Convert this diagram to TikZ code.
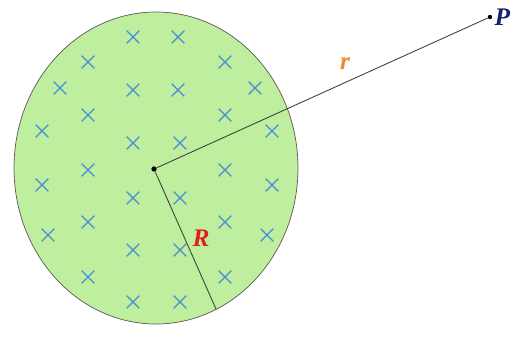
\documentclass[tikz,border=0pt]{standalone}
\usepackage{fontspec}
\setmainfont{Liberation Serif}
\usepackage{xcolor}
\definecolor{colField}{RGB}{190,238,158}
\definecolor{colCross}{RGB}{70,140,215}
\definecolor{colSmallR}{RGB}{235,140,45}
\definecolor{colBigR}{RGB}{225,30,30}
\definecolor{colP}{RGB}{25,30,110}
\usepackage{tikz}
\usetikzlibrary{shapes.misc}
\tikzset{
	fieldreg/.style={draw=black!65, fill=colField, thin},
	bcross/.style={cross out, draw=colCross, line width=0.7pt, minimum size=0.23cm, inner sep=0pt},
	ptdot/.style={circle, fill=black, inner sep=0pt, minimum size=3pt},
	radline/.style={draw=black!75, line width=0.5pt},
	lbl/.style={font=\Large\bfseries\itshape, inner sep=1pt},
}

\begin{document}
\begin{tikzpicture}[x=0.02cm, y=-0.02cm]
				\useasboundingbox (0,0) rectangle (522,336);
				\draw[fieldreg] (156,168) ellipse (142 and 156);
				\foreach \cx/\cy [count=\i] in {133/37, 178/37, 88/62, 225/62, 60/88, 133/90, 178/90, 255/88,
					88/115, 225/115, 42/131, 272/131, 133/143, 180/143, 88/170, 225/170,
					42/185, 272/185, 133/198, 180/198, 88/222, 225/222, 48/235, 267/235,
					133/250, 180/250, 88/277, 225/277, 133/302, 180/302}
					\node[bcross] (x\i) at (\cx,\cy) {};
				\node[ptdot] (O) at (154,169) {};
				\node[ptdot, minimum size=2.5pt] (P) at (490,17) {};
				\coordinate (Redge) at (216,309);
				\draw[radline] (O) -- (P);
				\draw[radline] (O) -- (Redge);
				\node[lbl, text=colP, anchor=west] (Plbl) at (P.east) {P};
				\node[lbl, text=colSmallR] (rlbl) at (345,64) {r};
				\node[lbl, text=colBigR] (Rlbl) at (201,238) {R};
			\end{tikzpicture}
\end{document}
